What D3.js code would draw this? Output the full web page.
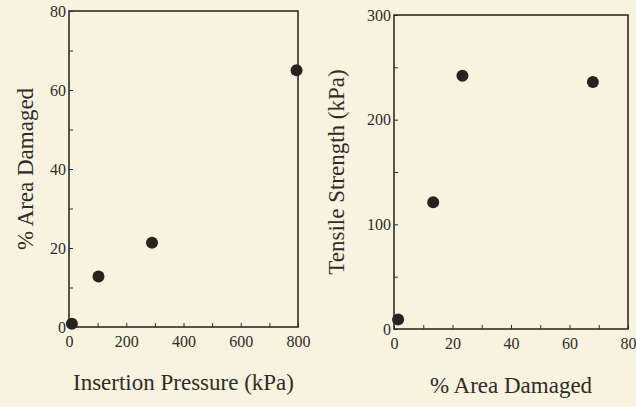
<!DOCTYPE html>
<html>
<head>
<meta charset="utf-8">
<script src="https://cdn.jsdelivr.net/npm/d3@7"></script>
<style>
  body { margin: 0; background: #f8f3df; }
  svg { display: block; }
</style>
</head>
<body>
<div class="box"></div>
<script>
// left panel: insertion pressure vs % area damaged
const pressure = [10, 103, 290, 795]
const areaDamaged = [0.8, 12.8, 21.3, 65]
const pressureTicks = [0, 200, 400, 600, 800]
const areaTicks = [0, 20, 40, 60, 80]

// right panel: % area damaged vs tensile strength
const areaDamaged2 = [1.4, 13.4, 23.4, 68]
const tensile = [9, 121, 242, 236]
const areaTicks2 = [0, 20, 40, 60, 80]
const tensileTicks = [0, 100, 200, 300]

const W = 636, H = 407
const ink = '#2f2c28'
const font = 'Liberation Serif, Times New Roman, serif'

const svg = d3.select('.box').append('svg')
    .attr('width', W).attr('height', H)
    .style('background', '#f8f3df')

function panel(opts) {
    const { x0, x1, y0, y1, xDomain, yDomain, xTicks, yTicks, xs, ys, xTitle, yTitle, yTitleX, xTitleY } = opts
    const x = d3.scaleLinear().domain(xDomain).range([x0, x1])
    const y = d3.scaleLinear().domain(yDomain).range([y1, y0])
    const g = svg.append('g')

    // frame
    g.append('rect')
        .attr('x', x0).attr('y', y0)
        .attr('width', x1 - x0).attr('height', y1 - y0)
        .attr('fill', 'none').attr('stroke', ink).attr('stroke-width', 1.6)

    // minor ticks pointing inward
    const xMinor = d3.range(xDomain[0], xDomain[1] + 1e-9, (xTicks[1] - xTicks[0]) / 2)
    const yMinor = d3.range(yDomain[0], yDomain[1] + 1e-9, (yTicks[1] - yTicks[0]) / 2)

    const xAxis = g.append('g').attr('transform', `translate(0,${y1})`)
        .call(d3.axisBottom(x).tickValues(xMinor).tickSize(-4).tickFormat(d => xTicks.includes(d) ? d : ''))
    xAxis.select('.domain').remove()
    xAxis.selectAll('line').attr('stroke', ink).attr('stroke-width', 1)
    xAxis.selectAll('text')
        .attr('y', 9).attr('dy', '0.71em')
        .attr('fill', ink).style('font', `16px ${font}`)

    const yAxis = g.append('g').attr('transform', `translate(${x0},0)`)
        .call(d3.axisLeft(y).tickValues(yMinor).tickSize(-4).tickFormat(d => yTicks.includes(d) ? d : ''))
    yAxis.select('.domain').remove()
    yAxis.selectAll('line').attr('stroke', ink).attr('stroke-width', 1)
    yAxis.selectAll('text')
        .attr('x', -3)
        .attr('fill', ink).style('font', `16px ${font}`)

    // points
    g.selectAll('circle')
        .data(xs.map((d, i) => [d, ys[i]])).enter()
        .append('circle')
        .attr('cx', d => x(d[0]))
        .attr('cy', d => y(d[1]))
        .attr('r', 6)
        .attr('fill', '#262321')

    g.append('text')
        .attr('x', (x0 + x1) / 2).attr('y', xTitleY)
        .attr('text-anchor', 'middle')
        .attr('fill', ink).style('font', `23px ${font}`)
        .text(xTitle)

    g.append('text')
        .attr('transform', `translate(${yTitleX},${(y0 + y1) / 2}) rotate(-90)`)
        .attr('text-anchor', 'middle')
        .attr('fill', ink).style('font', `23px ${font}`)
        .text(yTitle)
}

panel({
    x0: 69, x1: 298, y0: 11, y1: 327,
    xDomain: [0, 800], yDomain: [0, 80],
    xTicks: pressureTicks, yTicks: areaTicks,
    xs: pressure, ys: areaDamaged,
    xTitle: 'Insertion Pressure (kPa)', yTitle: '% Area Damaged',
    yTitleX: 33, xTitleY: 390
})

panel({
    x0: 394, x1: 628, y0: 15, y1: 329,
    xDomain: [0, 80], yDomain: [0, 300],
    xTicks: areaTicks2, yTicks: tensileTicks,
    xs: areaDamaged2, ys: tensile,
    xTitle: '% Area Damaged', yTitle: 'Tensile Strength (kPa)',
    yTitleX: 344, xTitleY: 393
})
</script>
</body>
</html>
